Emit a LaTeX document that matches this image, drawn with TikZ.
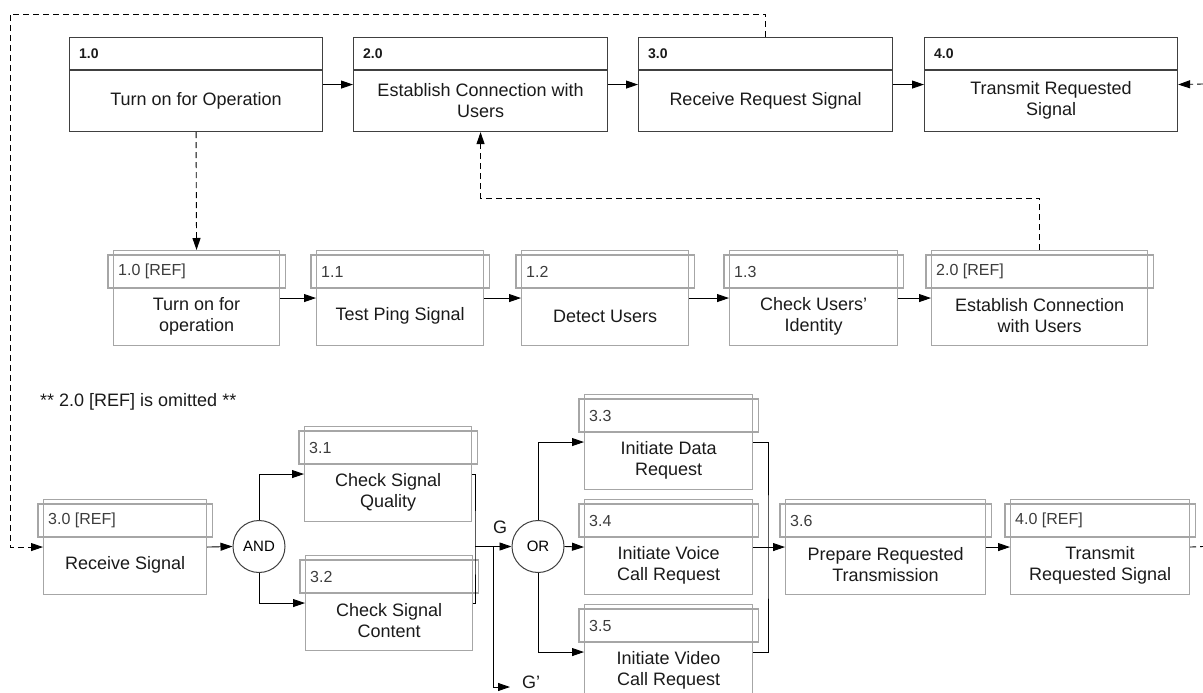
\documentclass[tikz,border=0pt]{standalone}
\usepackage{fontspec}
\setmainfont{Liberation Sans}
\usetikzlibrary{arrows.meta,calc}

\definecolor{boxdark}{HTML}{404040}
\definecolor{boxlight}{HTML}{A6A6A6}
\definecolor{txtdark}{HTML}{1A1A1A}

\tikzset{
  fnbody/.style={draw=boxdark, line width=1.1pt, minimum height=94pt, inner sep=0pt, anchor=north west},
  subbody/.style={draw=boxlight, line width=1.1pt, minimum height=95pt, inner sep=0pt, anchor=north west},
  fntext/.style={align=center, text=txtdark, font=\fontsize{18}{21}\selectfont, inner sep=0pt},
  fnid/.style={anchor=west, text=txtdark, font=\bfseries\fontsize{14}{16}\selectfont, inner sep=0pt},
  subid/.style={anchor=west, text=txtdark!85, font=\fontsize{16}{18}\selectfont, inner sep=0pt},
  gate/.style={circle, draw=boxdark, line width=1pt, minimum size=52pt, inner sep=0pt, font=\fontsize{15}{18}\selectfont},
  flow/.style={line width=0.9pt, -{Triangle[length=12pt,width=8pt]}},
  dashline/.style={line width=0.9pt, dash pattern=on 6pt off 4pt},
  refflow/.style={dashline, -{Triangle[length=12pt,width=8pt]}},
}

% #1 name, #2 x, #3 y (top left), #4 width, #5 number, #6 text
\newcommand{\procbox}[6]{
  \node[fnbody, minimum width=#4pt] (#1) at (#2,#3) {};
  \draw[boxdark, line width=1.1pt] ([yshift=-33pt]#1.north west) -- ([yshift=-33pt]#1.north east);
  \node[fnid] (#1-id) at ([xshift=10pt,yshift=-16.5pt]#1.north west) {#5};
  \node[fntext] (#1-txt) at ([yshift=-63.5pt]#1.north) {#6};
}
\newcommand{\subprocbox}[6]{
  \node[subbody, minimum width=#4pt] (#1) at (#2,#3) {};
  \draw[boxlight, line width=1.1pt] ([xshift=-5pt,yshift=-5pt]#1.north west) rectangle ([xshift=5pt,yshift=-38pt]#1.north east);
  \node[subid] (#1-id) at ([xshift=5pt,yshift=-21.5pt]#1.north west) {#5};
  \node[fntext] (#1-txt) at ([yshift=-66pt]#1.north) {#6};
}

\begin{document}
\begin{tikzpicture}[x=1pt,y=-1pt]
\useasboundingbox (0,0) rectangle (1203,693);
\clip (0,0) rectangle (1203,693);

% top level
\procbox{f10}{69}{37}{253}{1.0}{Turn on for Operation}
\procbox{f20}{353}{37}{254}{2.0}{Establish Connection with\\Users}
\procbox{f30}{638}{37}{254}{3.0}{Receive Request Signal}
\procbox{f40}{924}{37}{253}{4.0}{Transmit Requested\\Signal}

% 1.0
\subprocbox{r10}{113}{250}{166}{1.0 [REF]}{Turn on for\\operation}
\subprocbox{r11}{316}{250}{167}{1.1}{Test Ping Signal}
\subprocbox{r12}{521}{250}{167}{1.2}{Detect Users}
\subprocbox{r13}{729}{250}{168}{1.3}{Check Users’\\Identity}
\subprocbox{r20}{931}{250}{216}{2.0 [REF]}{Establish Connection\\with Users}

% 3.0
\subprocbox{s30}{43}{499}{163}{3.0 [REF]}{Receive Signal}
\subprocbox{s31}{304}{426}{167}{3.1}{Check Signal\\Quality}
\subprocbox{s32}{305}{555}{167}{3.2}{Check Signal\\Content}
\subprocbox{s33}{584}{394}{168}{3.3}{Initiate Data\\Request}
\subprocbox{s34}{584}{499}{168}{3.4}{Initiate Voice\\Call Request}
\subprocbox{s35}{584}{604}{168}{3.5}{Initiate Video\\Call Request}
\subprocbox{s36}{785}{499}{200}{3.6}{Prepare Requested\\Transmission}
\subprocbox{s40}{1010}{499}{179}{4.0 [REF]}{Transmit\\Requested Signal}

\node[gate] (andg) at (259,546.5) {AND};
\node[gate] (org) at (538,546.5) {OR};

\coordinate (gjoin) at (475,546.5);
\coordinate (gsplit) at (493,546.5);
\coordinate (merge) at (768,546.5);
\coordinate (loopc) at (10,14);
\coordinate (rin) at (1203,84);
\coordinate (rout) at (1203,546.5);

\node[fntext, anchor=west] (omitnote) at (40,402) {** 2.0 [REF] is omitted **};
\node[fntext] (glab) at (500,527) {G};
\node[fntext, anchor=west, inner xsep=12pt] (gprime) at (510,682) {G’};

% connectors
\draw[flow] (f10.east) -- (f20.west);
\draw[flow] (f20.east) -- (f30.west);
\draw[flow] (f30.east) -- (f40.west);
\draw[refflow] (rin) -- (f40.east);
\draw[refflow] (f10.south) -- (r10.north);
\draw[refflow] (r20.north) -- ++(0,-52) -| (f20.south);
\draw[refflow] (f30.north) |- (loopc) |- (s30.west);

\foreach \a/\b in {r10/r11, r11/r12, r12/r13, r13/r20}
  \draw[flow] (\a.east) -- (\b.west);

\draw[flow] (s30.east) -- (andg.west);
\draw[flow] (andg.north) |- (s31.west);
\draw[flow] (andg.south) |- (s32.west);
\draw[line width=0.9pt] (s31.east) -| (gjoin) |- (s32.east);
\draw[flow] (gjoin) -- (org.west);
\draw[flow] (gsplit) |- ([yshift=-5pt]gprime.west);
\draw[flow] (org.north) |- (s33.west);
\draw[flow] (org.east) -- (s34.west);
\draw[flow] (org.south) |- (s35.west);
\draw[line width=0.9pt] (s33.east) -| (merge) |- (s35.east);
\draw[flow] (s34.east) -- (s36.west);
\draw[flow] (s36.east) -- (s40.west);
\draw[dashline] (s40.east) -- (rout);

\end{tikzpicture}
\end{document}
